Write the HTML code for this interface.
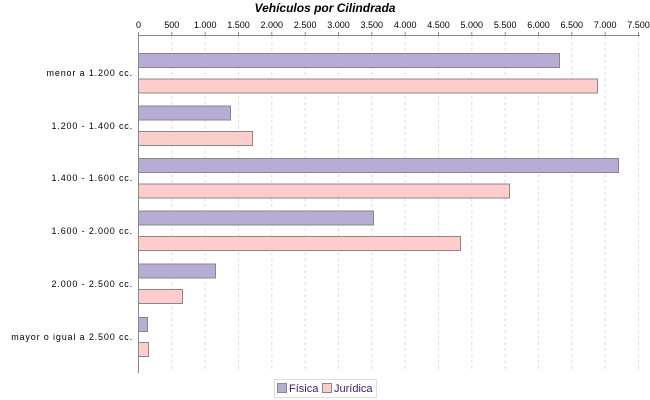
<!DOCTYPE html>
<html><head><meta charset="utf-8"><style>body{margin:0;background:#fff}svg{display:block}</style></head><body>
<svg width="650" height="400" xmlns="http://www.w3.org/2000/svg" font-family="Liberation Sans, sans-serif">
<text x="325" y="12" text-anchor="middle" font-size="12" font-weight="bold" font-style="italic">Vehículos por Cilindrada</text>
<g stroke="#ddd" stroke-dasharray="3,3">
<line x1="171.8" y1="36" x2="171.8" y2="372"/><line x1="205.2" y1="36" x2="205.2" y2="372"/><line x1="238.5" y1="36" x2="238.5" y2="372"/><line x1="271.8" y1="36" x2="271.8" y2="372"/><line x1="305.2" y1="36" x2="305.2" y2="372"/><line x1="338.5" y1="36" x2="338.5" y2="372"/><line x1="371.8" y1="36" x2="371.8" y2="372"/><line x1="405.2" y1="36" x2="405.2" y2="372"/><line x1="438.5" y1="36" x2="438.5" y2="372"/><line x1="471.8" y1="36" x2="471.8" y2="372"/><line x1="505.2" y1="36" x2="505.2" y2="372"/><line x1="538.5" y1="36" x2="538.5" y2="372"/><line x1="571.8" y1="36" x2="571.8" y2="372"/><line x1="605.2" y1="36" x2="605.2" y2="372"/><line x1="638.5" y1="36" x2="638.5" y2="372"/>
</g>
<g stroke="#888" stroke-width="1"><line x1="138.5" y1="35.5" x2="640" y2="35.5"/><line x1="138.5" y1="35" x2="138.5" y2="373"/></g>
<g stroke="#888" stroke-width="1">
<line x1="138.5" y1="32" x2="138.5" y2="35"/><line x1="171.8" y1="32" x2="171.8" y2="35"/><line x1="205.2" y1="32" x2="205.2" y2="35"/><line x1="238.5" y1="32" x2="238.5" y2="35"/><line x1="271.8" y1="32" x2="271.8" y2="35"/><line x1="305.2" y1="32" x2="305.2" y2="35"/><line x1="338.5" y1="32" x2="338.5" y2="35"/><line x1="371.8" y1="32" x2="371.8" y2="35"/><line x1="405.2" y1="32" x2="405.2" y2="35"/><line x1="438.5" y1="32" x2="438.5" y2="35"/><line x1="471.8" y1="32" x2="471.8" y2="35"/><line x1="505.2" y1="32" x2="505.2" y2="35"/><line x1="538.5" y1="32" x2="538.5" y2="35"/><line x1="571.8" y1="32" x2="571.8" y2="35"/><line x1="605.2" y1="32" x2="605.2" y2="35"/><line x1="638.5" y1="32" x2="638.5" y2="35"/>
</g>
<g font-size="9" text-anchor="middle" fill="#000">
<text x="138.5" y="28">0</text><text x="171.8" y="28">500</text><text x="205.2" y="28">1.000</text><text x="238.5" y="28">1.500</text><text x="271.8" y="28">2.000</text><text x="305.2" y="28">2.500</text><text x="338.5" y="28">3.000</text><text x="371.8" y="28">3.500</text><text x="405.2" y="28">4.000</text><text x="438.5" y="28">4.500</text><text x="471.8" y="28">5.000</text><text x="505.2" y="28">5.500</text><text x="538.5" y="28">6.000</text><text x="571.8" y="28">6.500</text><text x="605.2" y="28">7.000</text><text x="638.5" y="28">7.500</text>
</g>
<g stroke="#888" stroke-width="1">
<rect x="138.5" y="53.5" width="421" height="14" fill="#b6acd6"/><rect x="138.5" y="79" width="459" height="14" fill="#ffcccc"/>
<rect x="138.5" y="106" width="92" height="14" fill="#b6acd6"/><rect x="138.5" y="131.5" width="114" height="14" fill="#ffcccc"/>
<rect x="138.5" y="158.5" width="480" height="14" fill="#b6acd6"/><rect x="138.5" y="184" width="371" height="14" fill="#ffcccc"/>
<rect x="138.5" y="211" width="235" height="14" fill="#b6acd6"/><rect x="138.5" y="236.5" width="322" height="14" fill="#ffcccc"/>
<rect x="138.5" y="264" width="77" height="14" fill="#b6acd6"/><rect x="138.5" y="289.5" width="44" height="14" fill="#ffcccc"/>
<rect x="138.5" y="317.5" width="9" height="14" fill="#b6acd6"/><rect x="138.5" y="342.5" width="10" height="14" fill="#ffcccc"/>
</g>
<g font-size="9" text-anchor="end" fill="#000" letter-spacing="0.85">
<text x="133" y="76">menor a 1.200 cc.</text>
<text x="133" y="129">1.200 - 1.400 cc.</text>
<text x="133" y="181">1.400 - 1.600 cc.</text>
<text x="133" y="234">1.600 - 2.000 cc.</text>
<text x="133" y="287">2.000 - 2.500 cc.</text>
<text x="133" y="340">mayor o igual a 2.500 cc.</text>
</g>
<rect x="274.5" y="379.5" width="102" height="18" fill="#fff" stroke="#ddd"/>
<rect x="277.5" y="383.5" width="9" height="9" fill="#b6acd6" stroke="#888"/>
<text x="289" y="392" font-size="11" fill="#3a1a78">Física</text>
<rect x="322.5" y="383.5" width="9" height="9" fill="#ffcccc" stroke="#888"/>
<text x="334" y="392" font-size="11" fill="#3a1a78">Jurídica</text>
</svg>
</body></html>
